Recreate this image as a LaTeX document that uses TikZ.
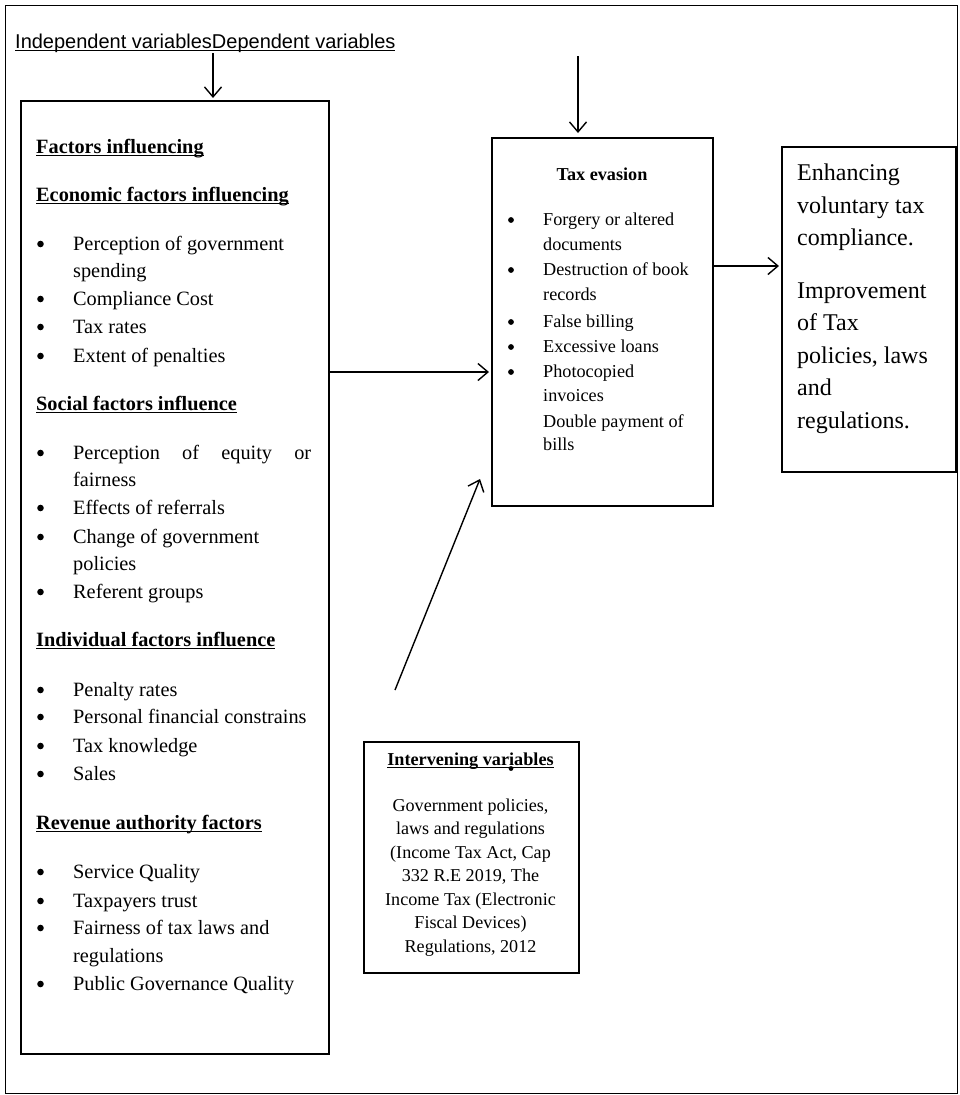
\documentclass[tikz,border=0pt]{standalone}
\usepackage{fontspec}
\setmainfont{Liberation Serif}
\newfontfamily\hdrfont{Liberation Sans}
\usetikzlibrary{arrows.meta}
\newcommand\myul[1]{\setbox0\hbox{#1}\rlap{\rule[-0.17em]{\wd0}{0.07em}}\box0}
\begin{document}
\begin{tikzpicture}[x=1pt,y=-1pt,
  frm/.style={draw, line width=1.2pt, inner sep=0, anchor=north west},
  box/.style={draw, line width=1.6pt, inner sep=0, anchor=north west},
  arr/.style={line width=1.4pt, -{Straight Barb[length=10pt,width=17pt,line width=1.4pt]}},
  txt/.style={inner sep=0, anchor=base west},
  lt/.style={txt, font=\fontsize{20.3}{24}\selectfont},
  lh/.style={txt, font=\fontsize{20.3}{24}\selectfont\bfseries},
  tt/.style={txt, font=\fontsize{18.2}{22}\selectfont},
  rt/.style={txt, font=\fontsize{24}{28}\selectfont},
  it/.style={inner sep=0, anchor=base, font=\fontsize{18.1}{21}\selectfont},
  blt/.style={circle, fill, inner sep=0, minimum size=6.6pt},
  sblt/.style={circle, fill, inner sep=0, minimum size=5.8pt}]
\useasboundingbox (0,0) rectangle (960,1095);
% frames
\node[frm, minimum width=952pt, minimum height=1088pt] (frame) at (5,5) {};
\node[box, minimum width=308pt, minimum height=953pt] (left) at (20,100) {};
\node[box, minimum width=221pt, minimum height=368pt] (tax) at (491,137) {};
\node[box, minimum width=174pt, minimum height=325pt] (right) at (781,146) {};
\node[box, minimum width=215pt, minimum height=231pt] (interv) at (363,741) {};
% header
\node[txt, font=\hdrfont\fontsize{20}{24}\selectfont] (hdr) at (15,48) {\myul{Independent variablesDependent variables}};
% left box headings
\foreach \y/\t [count=\i] in {153/Factors influencing, 201/Economic factors influencing, 410/Social factors influence, 646/Individual factors influence, 829/Revenue authority factors}
  \node[lh] (lh\i) at (36,\y) {\myul{\t}};
% left box items
\foreach \y/\t [count=\i] in {250/Perception of government, 277/spending, 305/Compliance Cost, 333/Tax rates, 362/Extent of penalties, 486/fairness, 514/Effects of referrals, 543/Change of government, 570/policies, 598/Referent groups, 696/Penalty rates, 723/Personal financial constrains, 752/Tax knowledge, 780/Sales, 878/Service Quality, 907/Taxpayers trust, 934/Fairness of tax laws and, 962/regulations, 990/Public Governance Quality}
  \node[lt] (li\i) at (73,\y) {\t};
\node[lt] (lj) at (73,459) {\hbox to 238pt{Perception\hfill of\hfill equity\hfill or}};
\foreach \y [count=\i] in {250,305,333,362,459,514,543,598,696,723,752,780,878,907,934,990}
  \node[blt] (lb\i) at (40.5,\y-6) {};
% tax evasion box
\node[inner sep=0, anchor=base, font=\fontsize{18.2}{22}\selectfont\bfseries] (th) at (602,180) {Tax evasion};
\foreach \y/\t [count=\i] in {225/Forgery or altered, 250/documents, 275/Destruction of book, 300/records, 327/False billing, 352/Excessive loans, 377/Photocopied, 401/invoices, 427/Double payment of, 450/bills}
  \node[tt] (ti\i) at (543,\y) {\t};
\foreach \y [count=\i] in {225,275,327,352,377}
  \node[sblt] (tb\i) at (511,\y-5) {};
% right box
\foreach \y/\t [count=\i] in {180/Enhancing, 213/voluntary tax, 245/compliance., 298/Improvement, 330/of Tax, 363/{policies, laws}, 395/and, 428/regulations.}
  \node[rt] (ri\i) at (797,\y) {\t};
% intervening box
\node[inner sep=0, anchor=base, font=\fontsize{18.2}{22}\selectfont\bfseries] (ih) at (470.5,765) {\myul{Intervening variables}};
\fill (511,768.5) circle (2.4pt);
\foreach \y/\t [count=\i] in {811/{Government policies,}, 834.5/laws and regulations, 858/{(Income Tax Act, Cap}, 881.5/{332 R.E 2019, The}, 905/Income Tax (Electronic, 928.5/Fiscal Devices), 952/{Regulations, 2012}}
  \node[it] (ii\i) at (470.5,\y) {\t};
% connectors
\coordinate (a1) at (213,53);
\coordinate (a2) at (578,56);
\coordinate (a3) at (395,690);
\coordinate (a4) at (480,479);
\draw[arr, shorten >=2pt] (a1) -- (a1 |- left.north);
\draw[arr, shorten >=4pt] (a2) -- (a2 |- tax.north);
\draw[arr, shorten >=2pt] (left.east |- 0,372) -- (tax.west |- 0,372);
\draw[arr, shorten >=2pt] (tax.east |- 0,266) -- (right.west |- 0,266);
\draw[arr] (a3) -- (a4);
\end{tikzpicture}
\end{document}
